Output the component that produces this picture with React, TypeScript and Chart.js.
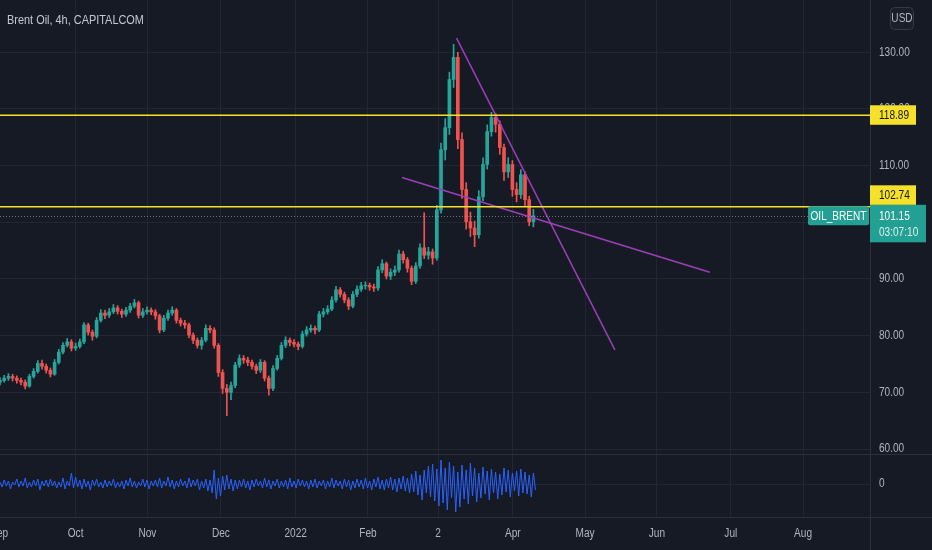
import React, { useEffect, useRef } from "react";
import { Chart, registerables } from "chart.js";

Chart.register(...registerables);

const FONT = '"Liberation Sans", Arial, sans-serif';
const NARROW = 0.84;

const BG = "#161a25";
const GRID = "#222632";
const SEP = "#2c303b";
const TEXT = "#b2b5be";
const UP = "#26a69a";
const DOWN = "#ef5350";
const TEAL = "#22a094";
const YELLOW = "#f5e12a";
const PURPLE = "#9c3fb8";
const BLUE = "#2962ff";

// time axis labels, placed in bar units (one bar per slot)
const monthLabels = ["Sep", "Oct", "Nov", "Dec", "2022", "Feb", "2", "Apr", "May", "Jun", "Jul", "Aug"];
const monthPos = [-0.2, 18.0, 35.1, 52.6, 70.4, 87.6, 104.3, 122.1, 139.3, 156.4, 174.0, 191.2];

const priceTicks = [60, 70, 80, 90, 100, 110, 120, 130];
const oscTicks = [0];

const opens = [
  71.8, 72.1, 72.5, 72.8, 72.5, 72.1, 71.8, 71.1, 72.8, 73.7,
  75.1, 74.6, 73.9, 73.2, 75.3, 77.1, 78.3, 78.9, 77.8, 78.1,
  78.9, 81.9, 80.6, 79.9, 82.7, 84.0, 83.6, 84.2, 84.9, 84.3,
  83.8, 84.5, 85.2, 85.8, 83.6, 84.2, 84.5, 84.2, 83.5, 81.0,
  83.1, 84.0, 84.5, 82.7, 82.2, 81.9, 80.1, 79.2, 78.3, 79.2,
  81.3, 81.0, 78.3, 73.5, 70.7, 70.0, 71.2, 74.8, 76.0, 75.7,
  75.3, 74.6, 73.9, 75.3, 72.5, 70.7, 74.2, 76.0, 78.3, 79.2,
  78.8, 78.5, 78.1, 80.3, 81.0, 81.3, 81.0, 83.8, 84.2, 84.7,
  86.3, 88.1, 87.3, 86.3, 85.2, 87.3, 88.2, 88.8, 88.9, 88.6,
  88.4, 91.6, 92.7, 90.5, 91.2, 91.6, 94.4, 93.4, 91.9, 89.6,
  92.3, 95.5, 94.2, 94.8, 93.7, 102.2, 112.8, 116.7, 125.2, 129.1,
  114.6, 105.8, 100.1, 99.0, 97.8, 104.5, 110.2, 116.0, 118.5, 117.3,
  113.2, 108.9, 110.2, 105.8, 104.9, 108.4, 104.0, 100.1,
];

const highs = [
  72.6, 73.0, 73.3, 73.2, 72.9, 72.5, 72.2, 73.2, 74.2, 75.6,
  75.7, 75.0, 74.3, 75.8, 77.6, 78.8, 79.5, 79.3, 78.7, 79.4,
  82.3, 82.2, 81.0, 83.2, 84.6, 84.5, 84.8, 85.5, 85.3, 84.7,
  85.0, 85.7, 86.4, 86.1, 84.8, 85.1, 84.9, 84.6, 83.8, 83.6,
  84.5, 85.1, 84.8, 83.1, 82.7, 82.2, 80.5, 79.6, 79.7, 81.9,
  81.8, 81.4, 78.6, 74.0, 71.4, 71.8, 75.3, 76.6, 76.5, 76.2,
  75.7, 75.0, 75.8, 75.6, 72.9, 74.7, 76.5, 78.8, 79.8, 79.6,
  79.3, 78.9, 80.8, 81.6, 81.9, 81.7, 84.3, 84.8, 85.3, 86.9,
  88.7, 88.5, 87.7, 86.7, 87.8, 88.8, 89.4, 89.5, 89.3, 89.1,
  92.2, 93.4, 93.0, 91.8, 92.3, 95.1, 94.9, 93.8, 92.3, 92.9,
  96.2, 101.7, 95.6, 95.3, 103.0, 114.0, 118.3, 126.5, 131.4, 130.0,
  115.8, 107.0, 101.8, 100.2, 105.6, 111.4, 117.2, 119.4, 119.2, 117.9,
  113.8, 111.4, 110.9, 107.0, 109.3, 108.9, 104.6, 102.3,
];

const lows = [
  71.3, 71.8, 72.1, 72.0, 71.6, 71.3, 70.6, 70.9, 72.5, 73.4,
  74.1, 73.4, 72.7, 73.0, 75.0, 76.8, 78.0, 77.3, 77.4, 77.8,
  78.6, 80.1, 79.2, 79.6, 82.4, 83.0, 83.2, 83.9, 83.8, 83.2,
  83.4, 84.1, 84.9, 83.1, 83.2, 83.8, 83.7, 82.9, 80.5, 80.7,
  82.7, 83.6, 82.2, 81.7, 81.3, 79.6, 78.6, 77.8, 77.6, 78.9,
  80.5, 77.8, 72.8, 69.8, 65.9, 68.7, 70.8, 74.4, 75.1, 74.7,
  74.1, 73.3, 73.5, 72.0, 69.5, 70.3, 73.9, 75.7, 77.9, 78.2,
  78.0, 77.5, 77.8, 79.9, 80.6, 80.3, 80.7, 83.3, 83.8, 84.4,
  85.9, 86.8, 85.8, 84.6, 84.9, 86.9, 87.8, 88.2, 88.0, 87.8,
  88.0, 91.1, 90.0, 89.9, 90.6, 91.2, 92.8, 91.2, 89.0, 89.2,
  91.9, 93.6, 93.5, 92.6, 93.3, 101.6, 111.0, 115.5, 123.8, 113.0,
  104.2, 98.8, 97.5, 95.7, 97.2, 103.8, 109.4, 115.2, 115.9, 112.0,
  107.4, 107.9, 104.6, 103.6, 104.2, 102.8, 99.4, 99.2,
];

const closes = [
  72.1, 72.5, 72.8, 72.5, 72.1, 71.8, 71.1, 72.8, 73.7, 75.1,
  74.6, 73.9, 73.2, 75.3, 77.1, 78.3, 78.9, 77.8, 78.1, 78.9,
  81.9, 80.6, 79.9, 82.7, 84.0, 83.6, 84.2, 84.9, 84.3, 83.8,
  84.5, 85.2, 85.8, 83.6, 84.2, 84.5, 84.2, 83.5, 81.0, 83.1,
  84.0, 84.5, 82.7, 82.2, 81.9, 80.1, 79.2, 78.3, 79.2, 81.3,
  81.0, 78.3, 73.5, 70.7, 70.0, 71.2, 74.8, 76.0, 75.7, 75.3,
  74.6, 73.9, 75.3, 72.5, 70.7, 74.2, 76.0, 78.3, 79.2, 78.8,
  78.5, 78.1, 80.3, 81.0, 81.3, 81.0, 83.8, 84.2, 84.7, 86.3,
  88.1, 87.3, 86.3, 85.2, 87.3, 88.2, 88.8, 88.9, 88.6, 88.4,
  91.6, 92.7, 90.5, 91.2, 91.6, 94.4, 93.4, 91.9, 89.6, 92.3,
  95.5, 94.2, 94.8, 93.7, 102.2, 112.8, 116.7, 125.2, 129.1, 114.6,
  105.8, 100.1, 99.0, 97.8, 104.5, 110.2, 116.0, 118.5, 117.3, 113.2,
  108.9, 110.2, 105.8, 104.9, 108.4, 104.0, 100.1, 101.15,
];

// lower pane oscillator, two samples per bar
const oscValues = [
  0.2, -0.3, 0.4, -0.2, 0.3, -0.5, 0.2, -0.1, 0.5, -0.3,
  0.3, -0.2, 0.6, -0.4, 0.2, -0.3, 0.4, -0.2, 0.5, -0.6,
  0.3, -0.2, 0.4, -0.3, 0.5, -0.2, 0.3, -0.4, 0.2, -0.3,
  0.6, -0.5, 0.3, -0.2, 1.1, -0.4, 0.7, -0.3, 0.4, -0.5,
  0.5, -0.3, 0.3, -0.6, 0.4, -0.2, 0.5, -0.3, 0.2, -0.4,
  0.4, -0.3, 0.3, -0.2, 0.5, -0.4, 0.2, -0.3, 0.3, -0.5,
  0.4, -0.2, 0.6, -0.3, 0.3, -0.4, 0.2, -0.2, 0.5, -0.3,
  0.4, -0.5, 0.3, -0.2, 0.4, -0.3, 0.6, -0.4, 0.3, -0.2,
  0.7, -0.3, 0.4, -0.5, 0.3, -0.3, 0.5, -0.2, 0.3, -0.4,
  0.6, -0.3, 0.4, -0.2, 0.5, -0.6, 0.3, -0.4,
  0.5, -0.7, 0.4, -0.9, 1.4, -1.5, 0.6, -1.2, 0.8, -0.6,
  0.9, -0.5, 0.5, -0.7, 0.4, -0.5,
  0.4, -0.3, 0.5, -0.4, 0.3, -0.6, 0.4, -0.3, 0.5, -0.2,
  0.3, -0.4, 0.6, -0.3, 0.4, -0.5, 0.3, -0.2, 0.5, -0.4,
  0.3, -0.3, 0.4, -0.5, 0.6, -0.3, 0.3, -0.4, 0.5, -0.2,
  0.4, -0.3, 0.3, -0.5, 0.4, -0.3, 0.5, -0.4, 0.3, -0.2,
  0.4, -0.5, 0.3, -0.3, 0.6, -0.4, 0.4, -0.2, 0.3, -0.5,
  0.5, -0.3, 0.4, -0.6, 0.3, -0.4, 0.5, -0.3, 0.4, -0.5,
  0.6, -0.4, 0.3, -0.6, 0.5, -0.3, 0.7, -0.5, 0.4, -0.6,
  0.5, -0.4, 0.7, -0.6, 0.5, -0.8, 0.6, -0.5, 0.8, -0.7,
  0.6, -0.9,
  1.0, -0.8, 1.3, -1.1, 0.9, -1.6, 1.4, -0.9, 1.8, -1.3,
  2.0, -1.7, 1.5, -2.2,
  2.4, -1.9, 1.6, -2.6, 2.2, -1.4, 1.8, -2.8, 1.2, -2.3,
  1.9, -1.5, 1.4, -2.0, 2.1, -1.2, 1.6, -1.8, 1.1, -1.4,
  1.7, -1.0, 1.3, -1.6, 1.5, -0.9, 1.2, -1.5, 1.0, -1.1,
  1.6, -0.8, 1.4, -1.3, 1.1, -0.7, 1.3, -1.2, 1.5, -0.9,
  1.2, -1.0, 0.9, -1.3, 1.1, -0.6,
];

// horizontal levels and the last price
const levelLines = [118.89, 102.74];
const lastPrice = 101.15;
const countdown = "03:07:10";
const symbol = "OIL_BRENT";

// drawn trend lines (bar units, price)
const trendAx = [108.7, 146.4];
const trendAy = [132.5, 77.5];
const trendBx = [95.7, 169.0];
const trendBy = [107.9, 91.2];

function box(ctx: CanvasRenderingContext2D, x: number, y: number, w: number, h: number, r: number) {
  ctx.beginPath();
  ctx.roundRect(x, y, w, h, r);
}

// narrow text, like the platform's condensed UI font
function txt(
  ctx: CanvasRenderingContext2D,
  s: string,
  x: number,
  y: number,
  align: CanvasTextAlign,
  size: number,
  color: string
) {
  ctx.save();
  ctx.font = `${size}px ${FONT}`;
  ctx.fillStyle = color;
  ctx.textAlign = align;
  ctx.textBaseline = "middle";
  ctx.translate(x, y);
  ctx.scale(NARROW, 1);
  ctx.fillText(s, 0, 0);
  ctx.restore();
}

const overlay = {
  id: "overlay",
  afterDatasetsDraw(chart: any) {
    const { ctx, chartArea: a, scales } = chart;
    const ys = scales.y;
    ctx.save();
    ctx.beginPath();
    ctx.rect(a.left, a.top, a.right - a.left, ys.bottom - a.top);
    ctx.clip();
    // yellow levels
    ctx.strokeStyle = YELLOW;
    ctx.lineWidth = 1.5;
    levelLines.forEach((v) => {
      const py = ys.getPixelForValue(v);
      ctx.beginPath();
      ctx.moveTo(a.left, py);
      ctx.lineTo(a.right, py);
      ctx.stroke();
    });
    // dotted last price line
    const ly = Math.round(ys.getPixelForValue(lastPrice)) + 0.5;
    ctx.strokeStyle = "rgba(178,181,190,0.55)";
    ctx.lineWidth = 1;
    ctx.setLineDash([1, 2]);
    ctx.beginPath();
    ctx.moveTo(a.left, ly);
    ctx.lineTo(a.right - 62, ly);
    ctx.stroke();
    ctx.restore();
  },
  afterDraw(chart: any) {
    const { ctx, chartArea: a, scales, width, height } = chart;
    const ys = scales.y;
    const xs = scales.x;
    const os = scales.osc;
    ctx.save();

    // pane separators and axis border
    ctx.strokeStyle = SEP;
    ctx.lineWidth = 1;
    ctx.beginPath();
    const sepY = Math.round(os.top) + 0.5;
    ctx.moveTo(0, sepY);
    ctx.lineTo(width, sepY);
    const botY = Math.round(a.bottom) + 0.5;
    ctx.moveTo(0, botY);
    ctx.lineTo(width, botY);
    const axX = Math.round(a.right) + 0.5;
    ctx.moveTo(axX, 0);
    ctx.lineTo(axX, height);
    ctx.stroke();

    // axis labels
    priceTicks.forEach((v) => txt(ctx, v.toFixed(2), a.right + 9, ys.getPixelForValue(v), "left", 12, TEXT));
    oscTicks.forEach((v) => txt(ctx, String(v), a.right + 9, os.getPixelForValue(v), "left", 12, TEXT));
    monthLabels.forEach((m, i) => txt(ctx, m, xs.getPixelForValue(monthPos[i]), a.bottom + 17, "center", 12, TEXT));

    // title
    txt(ctx, "Brent Oil, 4h, CAPITALCOM", 7, 20, "left", 13, "#c5c8d0");

    // currency box
    box(ctx, 890.5, 7.5, 23, 22, 4);
    ctx.fillStyle = "#1b1f2a";
    ctx.fill();
    ctx.strokeStyle = "#363a45";
    ctx.stroke();
    txt(ctx, "USD", 902, 18.5, "center", 12, TEXT);

    // last price box on the axis
    const lastY = ys.getPixelForValue(lastPrice);
    const tealTop = lastY - 11;
    ctx.fillStyle = TEAL;
    ctx.fillRect(a.right, tealTop, 56, 37.5);
    txt(ctx, lastPrice.toFixed(2), a.right + 9, lastY + 1, "left", 12, "#ffffff");
    txt(ctx, countdown, a.right + 9, lastY + 17, "left", 12, "rgba(255,255,255,0.85)");

    // symbol tag
    box(ctx, a.right - 62, lastY - 9.5, 61, 19, 2);
    ctx.fillStyle = TEAL;
    ctx.fill();
    txt(ctx, symbol, a.right - 31.5, lastY + 0.5, "center", 12, "#ffffff");

    // yellow level labels
    levelLines.forEach((v) => {
      const py = ys.getPixelForValue(v);
      let top = py - 10;
      if (top + 20 > tealTop && top < tealTop + 37.5) top = tealTop - 19.5;
      ctx.fillStyle = YELLOW;
      ctx.fillRect(a.right, top, 46, 19.5);
      txt(ctx, v.toFixed(2), a.right + 9, top + 10.5, "left", 12, "#131722");
    });

    ctx.restore();
  },
};

const noPad = (s: any) => {
  s.paddingTop = 0;
  s.paddingBottom = 0;
  s.paddingLeft = 0;
  s.paddingRight = 0;
};

const BrentChart: React.FC = () => {
  const canvasRef = useRef<HTMLCanvasElement | null>(null);
  const chartRef = useRef<Chart | null>(null);

  useEffect(() => {
    if (chartRef.current) chartRef.current.destroy();
    if (!canvasRef.current) return;

    Chart.defaults.font.family = FONT;
    const candleColors = closes.map((c, i) => (c >= opens[i] ? UP : DOWN));

    chartRef.current = new Chart(canvasRef.current, {
      type: "bar",
      data: {
        datasets: [
          {
            type: "line",
            label: "trend A",
            data: trendAx.map((v, i) => ({ x: v, y: trendAy[i] })),
            borderColor: PURPLE,
            borderWidth: 1.5,
            pointRadius: 0,
            yAxisID: "y",
            order: 0,
          },
          {
            type: "line",
            label: "trend B",
            data: trendBx.map((v, i) => ({ x: v, y: trendBy[i] })),
            borderColor: PURPLE,
            borderWidth: 1.5,
            pointRadius: 0,
            yAxisID: "y",
            order: 0,
          },
          {
            type: "bar",
            label: "bodies",
            data: closes.map((c, i) => ({ x: i, y: [opens[i], c] })),
            backgroundColor: candleColors,
            barThickness: 3,
            grouped: false,
            yAxisID: "y",
            order: 1,
          },
          {
            type: "bar",
            label: "wicks",
            data: highs.map((h, i) => ({ x: i, y: [lows[i], h] })),
            backgroundColor: candleColors,
            barThickness: 1,
            grouped: false,
            yAxisID: "y",
            order: 2,
          },
          {
            type: "line",
            label: "osc",
            data: oscValues.map((v, k) => ({ x: k * 0.5, y: v })),
            borderColor: BLUE,
            borderWidth: 1,
            pointRadius: 0,
            yAxisID: "osc",
            order: 3,
          },
        ] as any,
      },
      options: {
        animation: false,
        responsive: true,
        maintainAspectRatio: false,
        layout: { padding: { left: 0, right: 0, top: 0, bottom: 33 } },
        plugins: {
          legend: { display: false },
          tooltip: { enabled: false },
        },
        scales: {
          x: {
            type: "linear",
            min: 0,
            max: 207.14,
            offset: false,
            grid: { color: GRID, drawTicks: false, offset: false },
            border: { display: false },
            ticks: { display: false },
            afterBuildTicks: (s: any) => {
              s.ticks = monthPos.slice(1).map((v) => ({ value: v }));
            },
            afterFit: noPad,
          },
          y: {
            position: "right",
            stack: "pane",
            stackWeight: 454,
            min: 59.12,
            max: 139.23,
            grid: { color: GRID, drawTicks: false },
            border: { display: false },
            ticks: { display: false },
            afterBuildTicks: (s: any) => {
              s.ticks = priceTicks.map((v) => ({ value: v }));
            },
            afterFit: (s: any) => {
              s.width = 62;
              noPad(s);
            },
          },
          osc: {
            position: "right",
            stack: "pane",
            stackWeight: 63,
            min: -3.3,
            max: 3.0,
            grid: { color: GRID, drawTicks: false },
            border: { display: false },
            ticks: { display: false },
            afterBuildTicks: (s: any) => {
              s.ticks = oscTicks.map((v) => ({ value: v }));
            },
            afterFit: (s: any) => {
              s.width = 62;
              noPad(s);
            },
          },
        } as any,
      },
      plugins: [overlay],
    });

    return () => {
      if (chartRef.current) {
        chartRef.current.destroy();
        chartRef.current = null;
      }
    };
  }, []);

  return <canvas ref={canvasRef} />;
};

export default function App() {
  return (
    <div style={{ position: "fixed", left: 0, top: 0, width: 932, height: 550, background: BG }}>
      <BrentChart />
    </div>
  );
}
